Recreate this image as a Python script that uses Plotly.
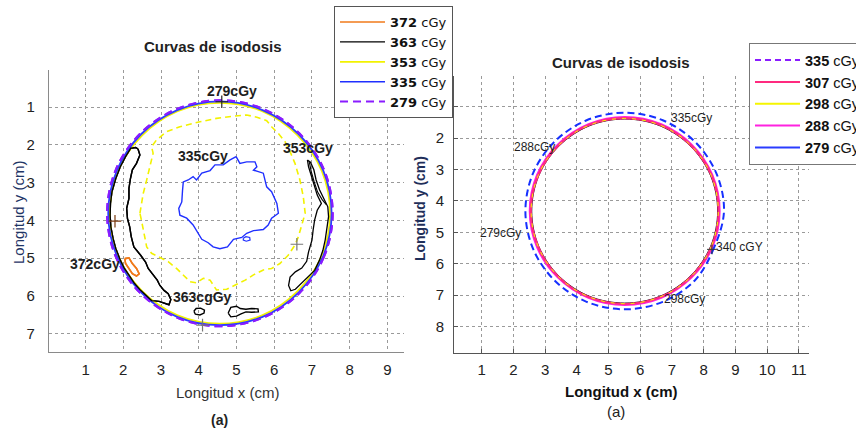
import plotly.graph_objects as go

FONT = "Liberation Sans, Arial, sans-serif"

# ---------------- left panel: measured isodose curves (cm) ----------------
ring279_x = [7.55, 7.32, 6.67, 5.71, 4.56, 3.42, 2.45, 1.80, 1.57, 1.80, 2.45, 3.42, 4.56, 5.71, 6.67, 7.32, 7.55]
ring279_y = [3.81, 4.96, 5.92, 6.57, 6.80, 6.57, 5.92, 4.96, 3.81, 2.66, 1.70, 1.05, 0.82, 1.05, 1.70, 2.66, 3.81]

ring335_x = [7.52, 7.30, 6.65, 5.69, 4.56, 3.43, 2.47, 1.83, 1.60, 1.83, 2.47, 3.43, 4.56, 5.69, 6.65, 7.30, 7.52]
ring335_y = [3.81, 4.94, 5.90, 6.55, 6.77, 6.55, 5.90, 4.94, 3.81, 2.68, 1.72, 1.08, 0.85, 1.08, 1.72, 2.68, 3.81]

ring353_x = [7.48, 7.26, 6.62, 5.68, 4.56, 3.44, 2.50, 1.86, 1.64, 1.86, 2.50, 3.44, 4.56, 5.68, 6.62, 7.26, 7.48]
ring353_y = [3.81, 4.93, 5.87, 6.51, 6.73, 6.51, 5.87, 4.93, 3.81, 2.69, 1.75, 1.11, 0.89, 1.11, 1.75, 2.69, 3.81]

iso353_x = [2.44, 2.53, 2.62, 2.79, 2.75, 2.88, 3.15, 3.50, 4.03, 4.47, 4.92, 5.27, 5.54, 5.80, 5.93,
            6.11, 6.29, 6.42, 6.55, 6.68, 6.77, 6.82, 6.73, 6.64, 6.55, 6.37, 6.15, 5.93, 5.71, 5.45,
            5.23, 4.96, 4.74, 4.47, 4.30, 4.12, 3.94, 3.77, 3.59, 3.41, 3.19, 2.97, 2.75, 2.62, 2.55,
            2.48, 2.44]
iso353_y = [3.81, 3.28, 2.93, 2.22, 2.05, 1.87, 1.65, 1.52, 1.39, 1.30, 1.24, 1.21, 1.27, 1.36, 1.52,
            1.70, 1.92, 2.18, 2.49, 2.93, 3.37, 3.81, 4.12, 4.43, 4.65, 4.92, 5.14, 5.27, 5.31, 5.44,
            5.58, 5.71, 5.82, 5.84, 5.58, 5.53, 5.65, 5.62, 5.44, 5.27, 5.09, 4.98, 4.87, 4.70, 4.39,
            3.99, 3.81]

iso335_x = [4.99, 5.09, 5.27, 5.49, 5.54, 5.45, 5.71, 5.80, 5.93, 6.07, 6.11, 5.93, 5.84, 5.71, 5.45,
            5.27, 5.14, 4.92, 4.76, 4.56, 4.38, 4.25, 4.08, 3.99, 3.85, 3.68, 3.50, 3.47, 3.55, 3.57,
            3.59, 3.72, 3.85, 3.94, 4.08, 4.30, 4.43, 4.65, 4.83, 4.99]
iso335_y = [2.31, 2.49, 2.45, 2.45, 2.58, 2.67, 2.75, 3.11, 3.24, 3.55, 3.81, 3.94, 4.12, 4.24, 4.27,
            4.34, 4.45, 4.50, 4.70, 4.75, 4.70, 4.59, 4.50, 4.34, 4.12, 3.94, 3.86, 3.68, 3.51, 3.20,
            2.98, 2.93, 2.84, 2.93, 2.75, 2.68, 2.53, 2.53, 2.40, 2.31]

iso335_spot_x = [5.18, 5.25, 5.35, 5.36, 5.26, 5.18, 5.18]
iso335_spot_y = [4.47, 4.43, 4.45, 4.52, 4.55, 4.52, 4.47]

iso363_left_x = [2.39, 2.44, 2.35, 2.24, 2.19, 2.15, 2.15, 2.09, 2.11, 2.17, 2.21, 2.28, 2.46, 2.59, 2.66,
                 2.81, 2.90, 2.97, 3.08, 3.19, 3.26, 3.21, 3.08, 2.95, 2.75, 2.61, 2.46, 2.30, 2.18, 2.03,
                 1.92, 1.80, 1.73, 1.67, 1.65, 1.66, 1.70, 1.80, 1.92, 2.06, 2.20, 2.33, 2.39]
iso363_left_y = [2.11, 2.27, 2.49, 2.66, 2.89, 3.15, 3.42, 3.68, 3.95, 4.17, 4.43, 4.70, 4.92, 5.10, 5.27,
                 5.45, 5.58, 5.72, 5.85, 5.94, 6.09, 6.23, 6.19, 6.14, 6.12, 6.00, 5.85, 5.67, 5.50, 5.27,
                 5.05, 4.74, 4.48, 4.17, 3.86, 3.55, 3.24, 2.89, 2.58, 2.31, 2.09, 2.07, 2.11]

iso363_right_x = [6.88, 6.96, 7.05, 7.11, 7.20, 7.32, 7.42, 7.44, 7.40, 7.35, 7.29, 7.20, 7.07, 6.89, 6.70,
                  6.56, 6.44, 6.38, 6.42, 6.56, 6.73, 6.86, 6.91, 7.00, 7.03, 7.07, 7.14, 7.25, 7.14, 7.05,
                  6.98, 6.91, 6.88]
iso363_right_y = [2.40, 2.46, 2.66, 2.93, 3.19, 3.43, 3.64, 3.90, 4.21, 4.52, 4.79, 5.05, 5.32, 5.50, 5.67,
                  5.82, 5.86, 5.72, 5.50, 5.36, 5.26, 5.08, 4.83, 4.52, 4.26, 3.99, 3.73, 3.55, 3.33, 3.06,
                  2.80, 2.58, 2.40]

iso363_inner_x = [6.93, 6.98, 7.06, 7.15, 7.27, 7.38]
iso363_inner_y = [2.46, 2.70, 2.98, 3.25, 3.45, 3.58]

iso363_blob1_x = [3.87, 3.93, 4.05, 4.15, 4.14, 4.03, 3.91, 3.87]
iso363_blob1_y = [6.40, 6.33, 6.32, 6.37, 6.45, 6.50, 6.48, 6.40]

iso363_blob2_x = [4.78, 4.85, 5.00, 5.10, 5.25, 5.40, 5.57, 5.58, 5.40, 5.25, 5.12, 5.00, 4.85, 4.78]
iso363_blob2_y = [6.45, 6.30, 6.27, 6.33, 6.35, 6.33, 6.34, 6.42, 6.43, 6.42, 6.47, 6.53, 6.55, 6.45]

iso372_x = [2.04, 2.15, 2.24, 2.35, 2.42, 2.35, 2.24, 2.15, 2.06, 2.04]
iso372_y = [5.01, 4.99, 5.14, 5.27, 5.41, 5.47, 5.41, 5.27, 5.14, 5.01]

left_labels = ["279cGy", "335cGy", "353cGy", "372cGy", "363cgGy"]
left_label_x = [4.88, 4.12, 6.90, 1.25, 4.10]
left_label_y = [0.58, 2.30, 2.09, 5.15, 6.03]

left_cross_x = [4.61, 1.78, 6.60, 4.10]
left_cross_y = [0.86, 4.02, 4.63, 6.77]
left_cross_col = ["#222222", "#7a3b10", "#777777", "#777777"]

left_xticks = [1, 2, 3, 4, 5, 6, 7, 8, 9]
left_yticks = [1, 2, 3, 4, 5, 6, 7]

# ---------------- right panel: calculated isodose curves (cm) ----------------
c335_x = [8.64, 8.33, 7.72, 6.71, 5.51, 4.31, 3.30, 2.62, 2.38, 2.62, 3.30, 4.31, 5.51, 6.71, 7.72, 8.40, 8.64]
c335_y = [4.32, 5.48, 6.53, 7.21, 7.45, 7.21, 6.53, 5.52, 4.32, 3.12, 2.11, 1.43, 1.19, 1.43, 2.11, 3.12, 4.32]

c307_x = [8.47, 8.25, 7.60, 6.64, 5.51, 4.38, 3.42, 2.78, 2.55, 2.78, 3.42, 4.38, 5.51, 6.64, 7.60, 8.25, 8.47]
c307_y = [4.32, 5.45, 6.41, 7.06, 7.28, 7.06, 6.41, 5.45, 4.32, 3.19, 2.23, 1.58, 1.36, 1.58, 2.23, 3.19, 4.32]

c298_x = [8.46, 8.24, 7.60, 6.64, 5.51, 4.38, 3.42, 2.78, 2.56, 2.78, 3.42, 4.38, 5.51, 6.64, 7.60, 8.24, 8.46]
c298_y = [4.32, 5.45, 6.41, 7.05, 7.27, 7.05, 6.41, 5.45, 4.32, 3.19, 2.23, 1.59, 1.37, 1.59, 2.23, 3.19, 4.32]

c288_x = [8.50, 8.27, 7.62, 6.66, 5.51, 4.37, 3.40, 2.75, 2.52, 2.75, 3.40, 4.37, 5.51, 6.66, 7.62, 8.27, 8.50]
c288_y = [4.32, 5.47, 6.43, 7.08, 7.31, 7.08, 6.43, 5.47, 4.32, 3.17, 2.21, 1.56, 1.33, 1.56, 2.21, 3.17, 4.32]

c279_x = [8.44, 8.22, 7.58, 6.63, 5.51, 4.39, 3.44, 2.80, 2.58, 2.80, 3.44, 4.39, 5.51, 6.63, 7.58, 8.22, 8.44]
c279_y = [4.32, 5.44, 6.39, 7.03, 7.25, 7.03, 6.39, 5.44, 4.32, 3.20, 2.25, 1.61, 1.39, 1.61, 2.25, 3.20, 4.32]

right_labels = ["335cGy", "288cGy", "279cGy", "340 cGY", "298cGy"]
right_label_x = [7.63, 2.68, 1.61, 9.12, 7.38]
right_label_y = [1.36, 2.29, 5.02, 5.48, 7.12]

right_cross_x = [8.26]
right_cross_y = [5.54]

right_xticks = [1, 2, 3, 4, 5, 6, 7, 8, 9, 10, 11]
right_yticks = [1, 2, 3, 4, 5, 6, 7, 8]

left_legend = ["372", "363", "353", "335", "279"]
right_legend = ["335", "307", "298", "288", "279"]

fig = go.Figure()


def curve(x, y, color, width, dash="solid", shape="linear", xa="x", ya="y",
          name=None, legend=None):
    fig.add_trace(go.Scatter(
        x=x, y=y, mode="lines", xaxis=xa, yaxis=ya,
        line=dict(color=color, width=width, dash=dash, shape=shape),
        name=name, showlegend=name is not None, legend=legend,
        hoverinfo="skip"))


def legend_label(v):
    return "<b>%s</b> cGy" % v


# left panel traces (legend order: 372, 363, 353, 335, 279)
curve(iso372_x, iso372_y, "#f07a1a", 1.6, name=legend_label(left_legend[0]), legend="legend")
curve(iso363_left_x, iso363_left_y, "#000000", 1.4, name=legend_label(left_legend[1]), legend="legend")
curve(ring353_x, ring353_y, "#f2f200", 1.8, shape="spline", name=legend_label(left_legend[2]), legend="legend")
curve(iso335_x, iso335_y, "#1f2fff", 1.4, name=legend_label(left_legend[3]), legend="legend")
curve(ring279_x, ring279_y, "#8a1cff", 2, dash="8px,5px", shape="spline",
      name=legend_label(left_legend[4]), legend="legend")
curve(ring335_x, ring335_y, "#2a3cff", 1.8, shape="spline")
curve(ring279_x, ring279_y, "#8a1cff", 2, dash="8px,5px", shape="spline")
curve(iso353_x, iso353_y, "#f2f200", 1.6, dash="6px,4px")
curve(iso335_spot_x, iso335_spot_y, "#1f2fff", 1.2)
curve(iso363_right_x, iso363_right_y, "#000000", 1.3)
curve(iso363_inner_x, iso363_inner_y, "#000000", 1.1)
curve(iso363_blob1_x, iso363_blob1_y, "#000000", 1.4)
curve(iso363_blob2_x, iso363_blob2_y, "#000000", 1.4)
curve(iso363_left_x, iso363_left_y, "#000000", 1.4)
curve(iso372_x, iso372_y, "#f07a1a", 1.6)

fig.add_trace(go.Scatter(
    x=left_cross_x, y=left_cross_y, mode="markers", showlegend=False, hoverinfo="skip",
    marker=dict(symbol="cross-thin", size=9, line=dict(color=left_cross_col, width=1.2))))

# right panel traces
curve(c279_x, c279_y, "#111111", 1.0, shape="spline", xa="x2", ya="y2")
curve(c288_x, c288_y, "#ff22e0", 2.2, shape="spline", xa="x2", ya="y2")
curve(c307_x, c307_y, "#ff2a7f", 2.2, shape="spline", xa="x2", ya="y2")
curve(c298_x, c298_y, "#f5f500", 1.0, dash="4px,6px", shape="spline", xa="x2", ya="y2")
curve(c335_x, c335_y, "#1630ff", 2.0, dash="7px,4px", shape="spline", xa="x2", ya="y2")

fig.add_trace(go.Scatter(
    x=right_cross_x, y=right_cross_y, mode="markers", xaxis="x2", yaxis="y2",
    showlegend=False, hoverinfo="skip",
    marker=dict(symbol="cross-thin", size=7, line=dict(color="#333333", width=1))))

# right-hand legend entries
right_styles = [("#8a1cff", "6px,4px"), ("#ff2a7f", "solid"), ("#f5f500", "solid"),
                ("#ff22e0", "solid"), ("#2a3cff", "solid")]
for v, (col, dsh) in zip(right_legend, right_styles):
    fig.add_trace(go.Scatter(
        x=[None], y=[None], mode="lines", xaxis="x2", yaxis="y2",
        line=dict(color=col, width=2, dash=dsh), name=legend_label(v), legend="legend2"))

annotations = []
for t, x, y in zip(left_labels, left_label_x, left_label_y):
    annotations.append(dict(text="<b>%s</b>" % t, x=x, y=y, xref="x", yref="y", showarrow=False,
                            font=dict(family=FONT, size=14, color="#1e1e1e")))
for t, x, y in zip(right_labels, right_label_x, right_label_y):
    annotations.append(dict(text=t, x=x, y=y, xref="x2", yref="y2", showarrow=False,
                            font=dict(family=FONT, size=12, color="#1e1e1e")))


def paper_text(text, x, y, size, color="#222222", angle=0):
    annotations.append(dict(text=text, x=x, y=y, xref="paper", yref="paper", showarrow=False,
                            xanchor="center", yanchor="middle", textangle=angle,
                            font=dict(family=FONT, size=size, color=color)))


paper_text("<b>Curvas de isodosis</b>", 0.2488, 0.8910, 15)
paper_text("<b>Curvas de isodosis</b>", 0.7255, 0.8561, 15)
paper_text("Longitud x (cm)", 0.2652, 0.0882, 15, "#333333")
paper_text("<b>(a)</b>", 0.2570, 0.0255, 14)
paper_text("Longitud y (cm)", 0.0210, 0.5081, 15, "#1f3566", angle=-90)
paper_text("<b>Longitud y (cm)</b>", 0.4907, 0.5151, 14, "#1f2f5a", angle=-90)
paper_text("<b>Longitud x (cm)</b>", 0.7266, 0.0905, 15, "#111111")
paper_text("(a)", 0.7196, 0.0441, 15, "#222222")

grid = dict(showgrid=True, gridcolor="#9a9a9a", gridwidth=1, griddash="dot", zeroline=False,
            showline=True, mirror=False,
            tickfont=dict(family=FONT, size=15, color="#222222"))

fig.update_layout(
    width=856, height=431,
    margin=dict(l=0, r=0, t=0, b=0, autoexpand=False),
    paper_bgcolor="white", plot_bgcolor="white",
    font=dict(family=FONT, color="#222222"),
    xaxis=dict(domain=[0.0572, 0.4720], range=[0.03, 9.44], tickvals=left_xticks,
               linecolor="#8a8a8a", linewidth=1, ticks="", ticklabelstandoff=4, anchor="y", **grid),
    yaxis=dict(domain=[0.1833, 0.8376], range=[7.48, 0.02], tickvals=left_yticks,
               linecolor="#8a8a8a", linewidth=1, ticks="", ticklabelstandoff=10, anchor="x", **grid),
    xaxis2=dict(domain=[0.5304, 0.9451], range=[0.13, 11.32], tickvals=right_xticks,
                linecolor="#555555", linewidth=1, ticks="inside", ticklen=4, tickcolor="#555555",
                ticklabelstandoff=3, anchor="y2", **grid),
    yaxis2=dict(domain=[0.1817, 0.8237], range=[8.83, 0.02], tickvals=right_yticks,
                linecolor="#555555", linewidth=1, ticks="inside", ticklen=4, tickcolor="#555555",
                ticklabelstandoff=6, anchor="x2", **grid),
    legend=dict(x=0.3902, y=0.986, xanchor="left", yanchor="top", bgcolor="white",
                bordercolor="#555555", borderwidth=1, itemwidth=45, traceorder="normal",
                font=dict(family="DejaVu Sans, sans-serif", size=13, color="#111111")),
    legend2=dict(x=0.875, y=0.900, xanchor="left", yanchor="top", bgcolor="white",
                 bordercolor="#777777", borderwidth=1, itemwidth=45, traceorder="normal",
                 font=dict(family=FONT, size=14.5, color="#111111")),
    annotations=annotations,
    showlegend=True,
)

fig.write_html("out.html")
